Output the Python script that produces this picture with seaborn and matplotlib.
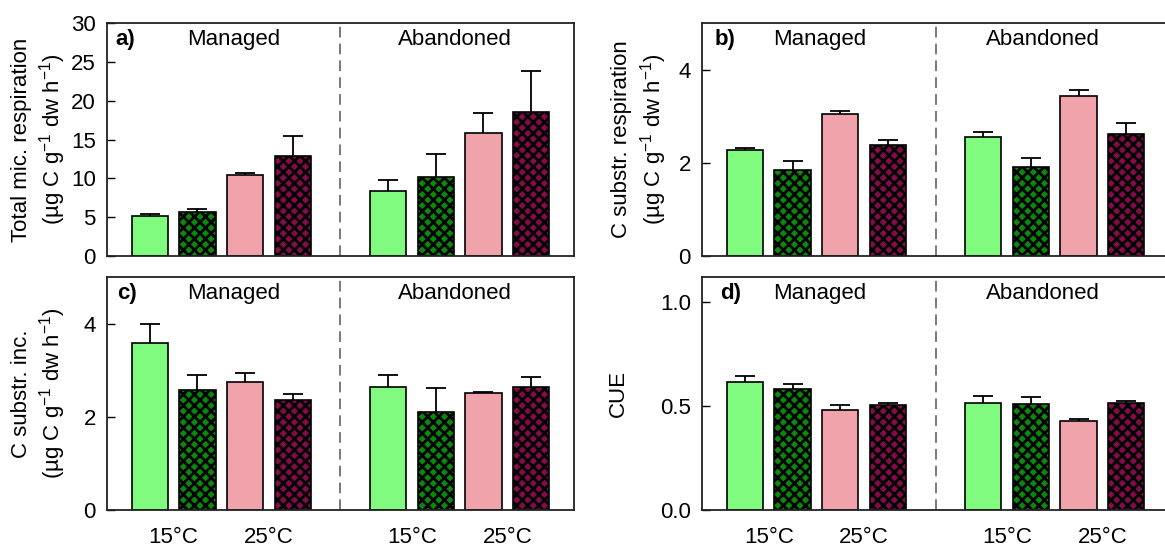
import matplotlib.pyplot as plt
import numpy as np
import pandas as pd
import seaborn as sns
from matplotlib.transforms import blended_transform_factory

sns.set_theme(style="white")
plt.rcParams.update(
    {
        "font.family": ["Liberation Sans", "DejaVu Sans"],
        "mathtext.fontset": "custom",
        "mathtext.rm": "Liberation Sans",
        "mathtext.it": "Liberation Sans:italic",
        "mathtext.bf": "Liberation Sans:bold",
        "hatch.linewidth": 2.0,
        "hatch.color": "black",
        "text.color": "black",
        "axes.labelcolor": "black",
        "xtick.color": "black",
        "ytick.color": "black",
    }
)

# bars per site: 15°C plain, 15°C hatched, 25°C plain, 25°C hatched
SITES = ["Managed", "Abandoned"]
TEMPS = ["15°C", "25°C", "15°C", "25°C"]
BARS = [
    "Managed 15 A", "Managed 15 B", "Managed 25 A", "Managed 25 B",
    "Abandoned 15 A", "Abandoned 15 B", "Abandoned 25 A", "Abandoned 25 B",
]

total_resp = [5.2, 5.72, 10.4, 12.85, 8.42, 10.18, 15.86, 18.56]
total_resp_err = [0.15, 0.3, 0.25, 2.55, 1.38, 2.9, 2.6, 5.3]

subst_resp = [2.27, 1.85, 3.05, 2.38, 2.55, 1.92, 3.43, 2.61]
subst_resp_err = [0.05, 0.19, 0.07, 0.12, 0.11, 0.19, 0.14, 0.25]

subst_inc = [3.58, 2.57, 2.74, 2.35, 2.63, 2.10, 2.50, 2.65]
subst_inc_err = [0.42, 0.33, 0.20, 0.14, 0.26, 0.52, 0.04, 0.20]

cue = [0.613, 0.584, 0.48, 0.504, 0.514, 0.51, 0.429, 0.514]
cue_err = [0.03, 0.022, 0.024, 0.011, 0.033, 0.032, 0.009, 0.011]

# styling
ORDER = BARS[:4] + ["gap"] + BARS[4:]
FACES = ["#80fb80", "#0a8a0a", "#f0a3aa", "#870a4c"] * 2
HATCHES = ["", "xxx", "", "xxx"] * 2
FS = 16

UNIT = "(µg C g$^{-1}$ dw h$^{-1}$)"


def draw_panel(ax, values, errors, ylabel, yticks, ylim, letter,
               letter_x, text_offsets, show_x, label_x, fmt="{:g}"):
    df = pd.DataFrame({"bar": BARS, "value": values})
    sns.barplot(
        data=df, x="bar", y="value", hue="bar", order=ORDER, hue_order=BARS,
        palette=dict(zip(BARS, FACES)), width=0.76, errorbar=None,
        legend=False, saturation=1, edgecolor="black", linewidth=1.2, ax=ax,
    )
    bars = sorted(ax.patches, key=lambda p: p.get_x())
    for bar, hatch in zip(bars, HATCHES):
        bar.set_hatch(hatch)
        bar.set_zorder(2)
    xs = [b.get_x() + b.get_width() / 2 for b in bars]

    # error bars sit behind the bars so only the upper half shows
    ax.errorbar(xs, values, yerr=errors, fmt="none", ecolor="black",
                elinewidth=1.3, capsize=7, capthick=1.3, zorder=1)

    ax.axvline((xs[3] + xs[4]) / 2, color="#555555", lw=1.1,
               ls=(0, (7, 4)), zorder=0.5)

    ax.set_xlim(-0.9, 8.9)
    ax.set_ylim(*ylim)
    ax.set_yticks(yticks)
    ax.set_yticklabels([fmt.format(t) for t in yticks])
    pairs = [(xs[i] + xs[i + 1]) / 2 for i in range(0, 8, 2)]
    ax.set_xticks(pairs)
    ax.set_xticklabels(TEMPS if show_x else [])
    ax.set_xlabel("")
    ax.set_ylabel(ylabel, fontsize=FS, linespacing=1.25)
    ax.yaxis.set_label_coords(label_x, 0.5)
    ax.tick_params(axis="y", direction="in", length=6, width=1,
                   labelsize=FS, pad=8, left=True)
    ax.tick_params(axis="x", length=0, labelsize=FS, pad=12)
    for sp in ax.spines.values():
        sp.set_color("#222222")
        sp.set_linewidth(1.3)

    tr = blended_transform_factory(ax.transData, ax.transAxes)
    centers = [np.mean(xs[:4]), np.mean(xs[4:])]
    for site, c, off in zip(SITES, centers, text_offsets):
        ax.text(c + off, 0.93, site, transform=tr, ha="center", va="center",
                fontsize=FS)
    ax.text(letter_x, 0.93, letter, transform=ax.transAxes, ha="left",
            va="center", fontsize=FS, fontweight="bold")


fig = plt.figure(figsize=(11.65, 5.52), dpi=100)
W, H = 0.4009, 0.4221
ax_a = fig.add_axes([0.0918, 0.5362, W, H])
ax_b = fig.add_axes([0.6026, 0.5362, W, H])
ax_c = fig.add_axes([0.0918, 0.0761, W, H])
ax_d = fig.add_axes([0.6026, 0.0761, W, H])

draw_panel(ax_a, total_resp, total_resp_err,
           "Total mic. respiration\n" + UNIT, [0, 5, 10, 15, 20, 25, 30],
           (0, 30), "a)", 0.017, (0.25, -0.1), False, -0.083)
draw_panel(ax_b, subst_resp, subst_resp_err,
           "C substr. respiration\n" + UNIT, [0, 2, 4],
           (0, 5), "b)", 0.026, (0.07, -0.25), False, -0.071)
draw_panel(ax_c, subst_inc, subst_inc_err,
           "C substr. inc.\n" + UNIT, [0, 2, 4],
           (0, 5), "c)", 0.021, (0.25, -0.1), True, -0.083)
draw_panel(ax_d, cue, cue_err, "CUE", [0.0, 0.5, 1.0],
           (0, 1.12), "d)", 0.039, (0.07, -0.25), True, -0.156,
           fmt="{:.1f}")

fig.savefig("out.png", dpi=100)
